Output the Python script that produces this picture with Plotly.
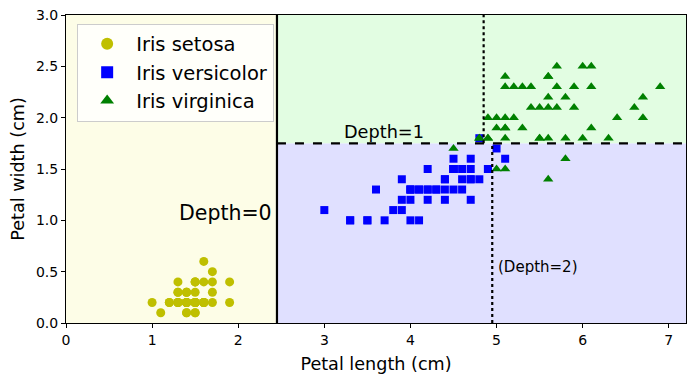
import plotly.graph_objects as go

# Iris petal measurements (length, width) in cm
setosa_len = [1.4,1.4,1.3,1.5,1.4,1.7,1.4,1.5,1.4,1.5,1.5,1.6,1.4,1.1,1.2,1.5,1.3,1.4,1.7,1.5,
              1.7,1.5,1.0,1.7,1.9,1.6,1.6,1.5,1.4,1.6,1.6,1.5,1.5,1.4,1.5,1.2,1.3,1.4,1.3,1.5,
              1.3,1.3,1.3,1.6,1.9,1.4,1.6,1.4,1.5,1.4]
setosa_wid = [0.2,0.2,0.2,0.2,0.2,0.4,0.3,0.2,0.2,0.1,0.2,0.2,0.1,0.1,0.2,0.4,0.4,0.3,0.3,0.3,
              0.2,0.4,0.2,0.5,0.2,0.2,0.4,0.2,0.2,0.2,0.2,0.4,0.1,0.2,0.2,0.2,0.2,0.1,0.2,0.2,
              0.3,0.3,0.2,0.6,0.4,0.3,0.2,0.2,0.2,0.2]
versi_len = [4.7,4.5,4.9,4.0,4.6,4.5,4.7,3.3,4.6,3.9,3.5,4.2,4.0,4.7,3.6,4.4,4.5,4.1,4.5,3.9,
             4.8,4.0,4.9,4.7,4.3,4.4,4.8,5.0,4.5,3.5,3.8,3.7,3.9,5.1,4.5,4.5,4.7,4.4,4.1,4.0,
             4.4,4.6,4.0,3.3,4.2,4.2,4.2,4.3,3.0,4.1]
versi_wid = [1.4,1.5,1.5,1.3,1.5,1.3,1.6,1.0,1.3,1.4,1.0,1.5,1.0,1.4,1.3,1.4,1.5,1.0,1.5,1.1,
             1.8,1.3,1.5,1.2,1.3,1.4,1.4,1.7,1.5,1.0,1.1,1.0,1.2,1.6,1.5,1.6,1.5,1.3,1.3,1.3,
             1.2,1.4,1.2,1.0,1.3,1.2,1.3,1.3,1.1,1.3]
virg_len = [6.0,5.1,5.9,5.6,5.8,6.6,4.5,6.3,5.8,6.1,5.1,5.3,5.5,5.0,5.1,5.3,5.5,6.7,6.9,5.0,
            5.7,4.9,6.7,4.9,5.7,6.0,4.8,4.9,5.6,5.8,6.1,6.4,5.6,5.1,5.6,6.1,5.6,5.5,4.8,5.4,
            5.6,5.1,5.1,5.9,5.7,5.2,5.0,5.2,5.4,5.1]
virg_wid = [2.5,1.9,2.1,1.8,2.2,2.1,1.7,1.8,1.8,2.5,2.0,1.9,2.1,2.0,2.4,2.3,1.8,2.2,2.3,1.5,
            2.3,2.0,2.0,1.8,2.1,1.8,1.8,1.8,2.1,1.6,1.9,2.0,2.2,1.5,1.4,2.3,2.4,1.8,1.8,2.1,
            2.4,2.3,1.9,2.3,2.5,2.3,1.9,2.0,2.3,1.8]

# Decision tree thresholds and axis extent
x_min, x_max = 0.0, 7.2
y_min, y_max = 0.0, 3.0
split0_len = 2.45
split1_wid = 1.75
split2a_len = 4.95
split2b_len = 4.85

x_ticks = [0, 1, 2, 3, 4, 5, 6, 7]
y_ticks = [0.0, 0.5, 1.0, 1.5, 2.0, 2.5, 3.0]

FONT = "DejaVu Sans"

fig = go.Figure()

fig.add_trace(go.Scatter(x=setosa_len, y=setosa_wid, mode="markers", name="Iris setosa",
                         marker=dict(symbol="circle", size=9, color="#bfbf00")))
fig.add_trace(go.Scatter(x=versi_len, y=versi_wid, mode="markers", name="Iris versicolor",
                         marker=dict(symbol="square", size=8, color="#0000ff")))
fig.add_trace(go.Scatter(x=virg_len, y=virg_wid, mode="markers", name="Iris virginica",
                         marker=dict(symbol="triangle-up", size=9, color="#008000")))

# boundary lines
fig.add_trace(go.Scatter(x=[split0_len, split0_len], y=[y_min, y_max], mode="lines",
                         line=dict(color="black", width=2.2), showlegend=False, hoverinfo="skip"))
fig.add_trace(go.Scatter(x=[split0_len, x_max], y=[split1_wid, split1_wid], mode="lines",
                         line=dict(color="black", width=2.2, dash="dash"), showlegend=False, hoverinfo="skip"))
fig.add_trace(go.Scatter(x=[split2a_len, split2a_len], y=[y_min, split1_wid], mode="lines",
                         line=dict(color="black", width=2.2, dash="dot"), showlegend=False, hoverinfo="skip"))
fig.add_trace(go.Scatter(x=[split2b_len, split2b_len], y=[split1_wid, y_max], mode="lines",
                         line=dict(color="black", width=2.2, dash="dot"), showlegend=False, hoverinfo="skip"))

# region backgrounds
shapes = [
    dict(type="rect", xref="x", yref="y", x0=x_min, x1=split0_len, y0=y_min, y1=y_max,
         fillcolor="rgb(253,253,231)", line=dict(width=0), layer="below"),
    dict(type="rect", xref="x", yref="y", x0=split0_len, x1=x_max, y0=y_min, y1=split1_wid,
         fillcolor="rgb(224,224,255)", line=dict(width=0), layer="below"),
    dict(type="rect", xref="x", yref="y", x0=split0_len, x1=x_max, y0=split1_wid, y1=y_max,
         fillcolor="rgb(226,253,226)", line=dict(width=0), layer="below"),
]

annotations = [
    dict(x=1.29, y=1.07, xref="x", yref="y", text="Depth=0", showarrow=False,
         xanchor="left", yanchor="middle", font=dict(family=FONT, size=20.5, color="black")),
    dict(x=3.2, y=1.86, xref="x", yref="y", text="Depth=1", showarrow=False,
         xanchor="left", yanchor="middle", font=dict(family=FONT, size=17.7, color="black")),
    dict(x=4.99, y=0.55, xref="x", yref="y", text="(Depth=2)", showarrow=False,
         xanchor="left", yanchor="middle", font=dict(family=FONT, size=15, color="black")),
]

# The page body has an 8px default margin; size the figure so the plot area
# lands at the same pixels as the reference inside the 696x381 window.
fig.update_layout(
    width=688, height=373,
    margin=dict(l=58, r=10, t=7, b=58, autoexpand=False),
    paper_bgcolor="white", plot_bgcolor="white",
    font=dict(family=FONT, size=14, color="black"),
    shapes=shapes, annotations=annotations,
    legend=dict(x=0.018, y=0.972, xanchor="left", yanchor="top",
                bgcolor="rgba(255,255,255,0.8)", bordercolor="#cccccc", borderwidth=1,
                font=dict(family=FONT, size=19.5), itemsizing="constant", itemwidth=48,
                tracegroupgap=0),
    showlegend=True,
)
fig.update_xaxes(range=[x_min, x_max], tickvals=x_ticks, showgrid=False, zeroline=False,
                 showline=True, linecolor="black", linewidth=1, mirror=True, automargin=False,
                 ticks="outside", ticklen=4, tickcolor="black", ticklabeloverflow="allow",
                 title=dict(text="Petal length (cm)", font=dict(family=FONT, size=17.6), standoff=10))
fig.update_yaxes(range=[y_min, y_max], tickvals=y_ticks, tickformat=".1f", showgrid=False, zeroline=False,
                 showline=True, linecolor="black", linewidth=1, mirror=True, automargin=False,
                 ticks="outside", ticklen=4, tickcolor="black", ticklabeloverflow="allow",
                 title=dict(text="Petal width (cm)", font=dict(family=FONT, size=17.6), standoff=8))

fig.write_html("out.html")
